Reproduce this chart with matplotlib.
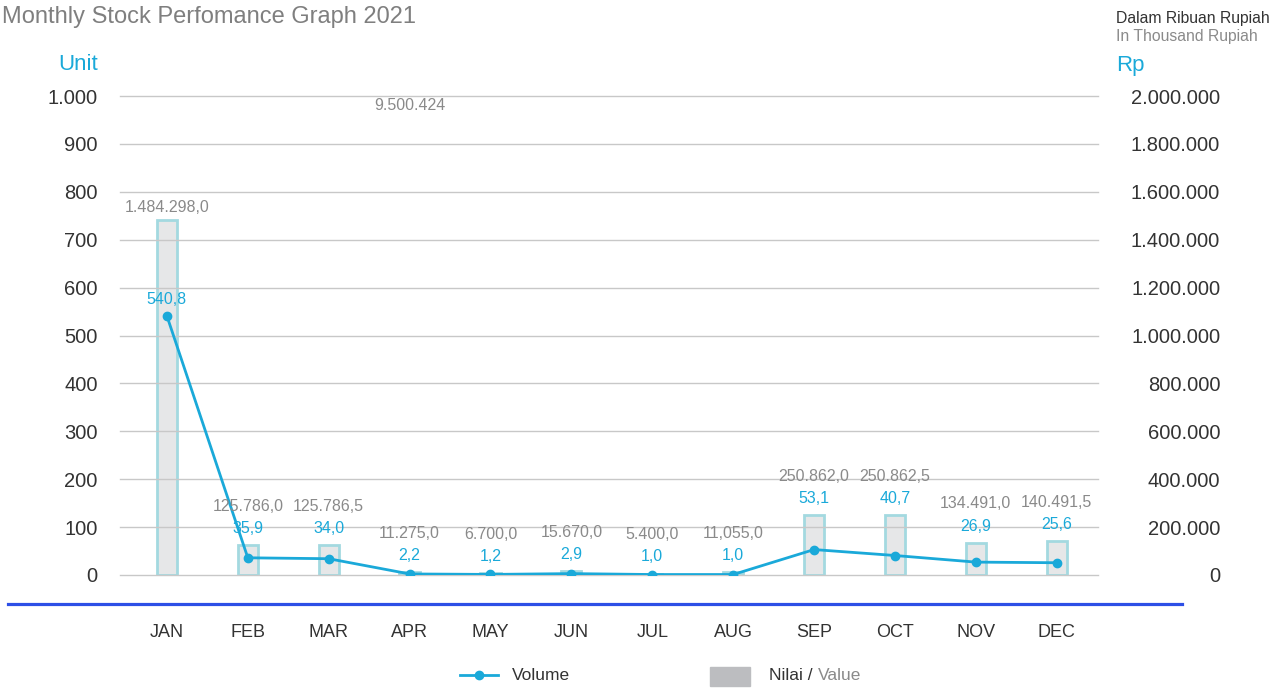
import matplotlib.pyplot as plt
from matplotlib.lines import Line2D
from matplotlib.patches import Rectangle
from matplotlib.transforms import blended_transform_factory

plt.rcParams['font.family'] = ['Liberation Sans', 'DejaVu Sans']

months = ["JAN", "FEB", "MAR", "APR", "MAY", "JUN", "JUL", "AUG", "SEP", "OCT", "NOV", "DEC"]
volume = [540.8, 35.9, 34.0, 2.2, 1.2, 2.9, 1.0, 1.0, 53.1, 40.7, 26.9, 25.6]
volume_labels = ["540,8", "35,9", "34,0", "2,2", "1,2", "2,9", "1,0", "1,0", "53,1", "40,7", "26,9", "25,6"]
value = [1484298.0, 125786.0, 125786.5, 11275.0, 6700.0, 15670.0, 5400.0, 11055.0,
         250862.0, 250862.5, 134491.0, 140491.5]
value_labels = ["1.484.298,0", "125.786,0", "125.786,5", "11.275,0", "6.700,0", "15.670,0",
                "5.400,0", "11,055,0", "250.862,0", "250.862,5", "134.491,0", "140.491,5"]
stray_label = "9.500.424"   # printed near the top above APR in the source
left_ticks = list(range(0, 1001, 100))
right_ticks = list(range(0, 2000001, 200000))

BLUE = "#1aa9d9"
GRAY_TXT = "#8a8a8a"
DARK = "#333333"


def dots(v):
    return f"{v:,.0f}".replace(",", ".")


fig = plt.figure(figsize=(12.82, 6.88), dpi=100)
ax = fig.add_axes([120 / 1282, 1 - 575 / 688, 978 / 1282, 479 / 688])
ax2 = ax.twinx()
ax.set_zorder(ax2.get_zorder() + 1)
ax.patch.set_visible(False)

x = list(range(len(months)))

# bars on the Rp axis
ax2.bar(x, value, width=0.25, color="#e6e7e8", edgecolor="#a3d9e0", linewidth=2, zorder=2)
ax2.set_ylim(0, 2000000)
ax2.set_yticks(right_ticks)
ax2.set_yticklabels([dots(t) for t in right_ticks], ha="right")
ax2.tick_params(axis="y", length=0, pad=88, labelsize=14.5, labelcolor=DARK)

# volume line on the unit axis
ax.plot(x, volume, color=BLUE, lw=2, marker="o", markersize=6, zorder=5)
ax.set_ylim(0, 1000)
ax.set_xlim(-0.58, 11.51)
ax.set_yticks(left_ticks)
ax.set_yticklabels([dots(t) for t in left_ticks])
ax.tick_params(axis="y", length=0, pad=16, labelsize=14.5, labelcolor=DARK)
ax.set_xticks(x)
ax.set_xticklabels(months)
ax.tick_params(axis="x", length=0, pad=35, labelsize=13, labelcolor=DARK)
ax.grid(axis="y", color="#c8c8c8", lw=1)
for gl in ax.get_ygridlines():
    gl.set_clip_on(False)
ax.set_axisbelow(True)
for a in (ax, ax2):
    for s in a.spines.values():
        s.set_visible(False)

# data labels
for i in x:
    bar_top = value[i] / 2000.0
    base = volume[i] if bar_top - volume[i] > 100 else max(volume[i], bar_top)
    blue_y = base + 35
    gray_y = max(bar_top + 25, blue_y + 46)
    ax.text(i, blue_y, volume_labels[i], color=BLUE, fontsize=11.5, ha="center", va="center", zorder=6)
    ax.text(i, gray_y, value_labels[i], color=GRAY_TXT, fontsize=11.5, ha="center", va="center", zorder=6)

trans = blended_transform_factory(ax.transData, ax.transAxes)
ax.text(3, 0.981, stray_label, color=GRAY_TXT, fontsize=11.5, ha="center", va="center", transform=trans)

# headings
fig.text(2 / 1282, 1 - 17 / 688, "Monthly Stock Perfomance Graph 2021", color="#7f7f7f",
         fontsize=17, ha="left", va="center")
fig.text(1116 / 1282, 1 - 18 / 688, "Dalam Ribuan Rupiah", color=DARK, fontsize=11.3, ha="left", va="center")
fig.text(1116 / 1282, 1 - 36 / 688, "In Thousand Rupiah", color=GRAY_TXT, fontsize=11.3, ha="left", va="center")
fig.text(98 / 1282, 1 - 65 / 688, "Unit", color=BLUE, fontsize=16, ha="right", va="center")
fig.text(1116 / 1282, 1 - 65 / 688, "Rp", color=BLUE, fontsize=16, ha="left", va="center")

# blue separator line
fig.add_artist(Line2D([8 / 1282, 1182 / 1282], [1 - 604 / 688] * 2, color="#2d4fe6", lw=2.3))

# legend
ly = 1 - 675 / 688
fig.add_artist(Line2D([460 / 1282, 498 / 1282], [ly, ly], color=BLUE, lw=2))
fig.add_artist(Line2D([479 / 1282], [ly], color=BLUE, marker="o", markersize=6))
fig.text(512 / 1282, ly, "Volume", color=DARK, fontsize=12.5, ha="left", va="center")
fig.add_artist(Rectangle((710 / 1282, 1 - 686 / 688), 40 / 1282, 19 / 688,
                         transform=fig.transFigure, color="#bcbdc0"))
t1 = fig.text(769 / 1282, ly, "Nilai / ", color=DARK, fontsize=12.5, ha="left", va="center")
ax.annotate("Value", xy=(1, 0.5), xycoords=t1, ha="left", va="center",
            color=GRAY_TXT, fontsize=12.5, annotation_clip=False)

fig.savefig("out.png", dpi=100)
